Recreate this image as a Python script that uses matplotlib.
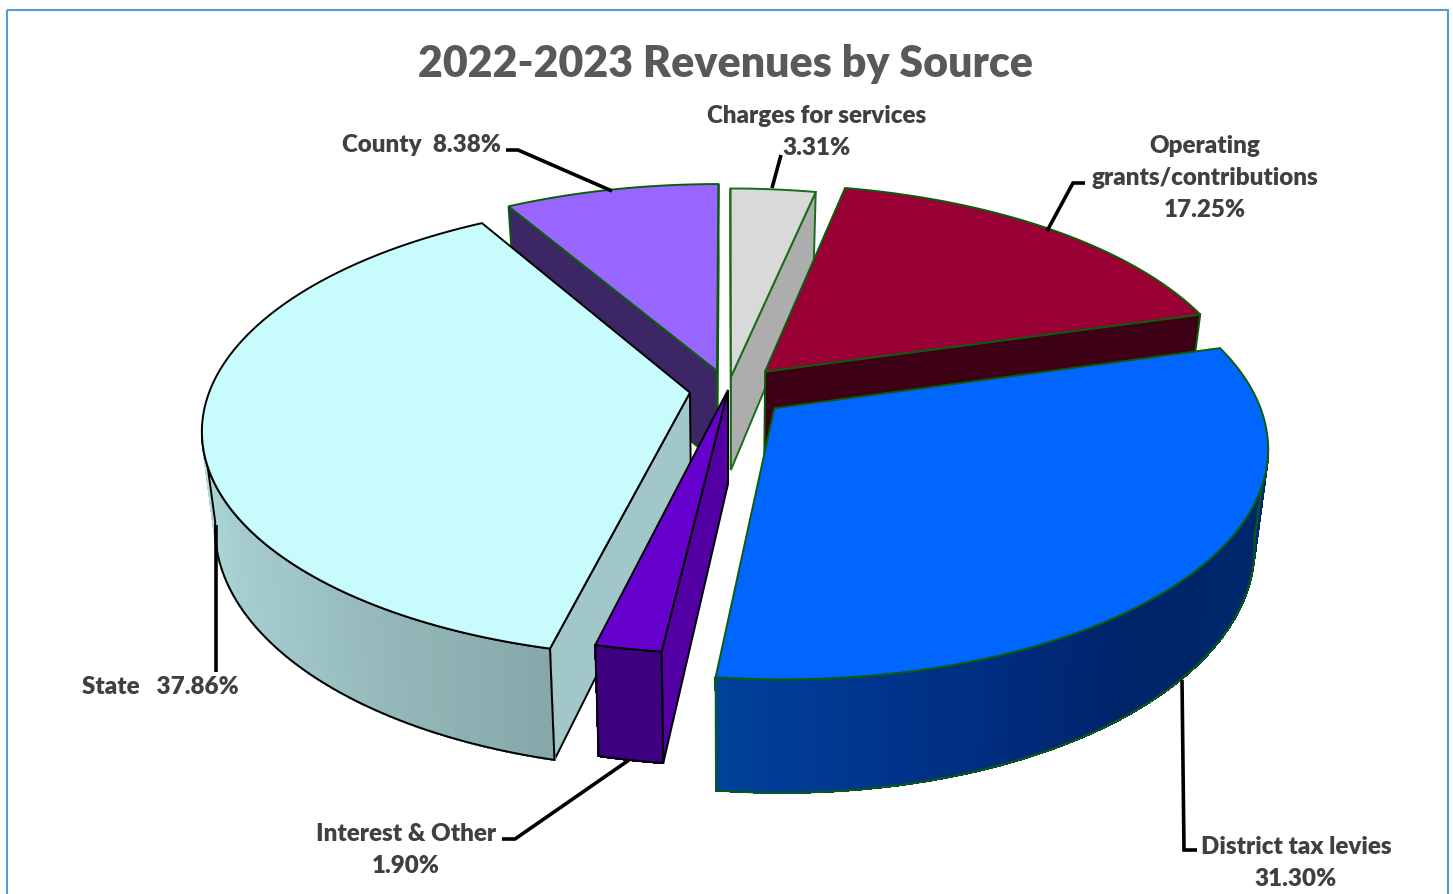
import numpy as np
import matplotlib
matplotlib.use('Agg')
import matplotlib.pyplot as plt
from matplotlib.patches import Polygon, Rectangle

# shares clockwise from 12 o'clock
names = ['Charges for services', 'Operating\ngrants/contributions', 'District tax levies',
         'Interest & Other', 'State', 'County']
shares = [3.31, 17.25, 31.30, 1.90, 37.86, 8.38]
explode = [0.06, 0.115, 0.125, 0.0, 0.08, 0.09]
top_colors = ['#D9D9D9', '#990033', '#0066FF', '#6600CC', '#C8FCFC', '#9966FF']
wall_colors = ['#ADADAD', '#3D0014', '#00205C', '#5200A3', '#A2C7C8', '#3C2666']
edge_colors = ['#1B6B1B', '#0B5D0B', '#0B5D0B', 'black', 'black', '#0B5D0B']
side_stops = [['#ADADAD'], ['#3D0014'], ['#002A70', '#00266B', '#00246A', '#003086', '#00419B'],
              ['#3E007F'], ['#86A8AA', '#A0C6C6', '#AFDADA'], ['#3C2666']]
draw_order = [5, 0, 1, 4, 2, 3]

# projection of the pie plane to pixels
CX, CY = 728, 390
SX, SY, PERSP = 480, 222, 0.158
DEPTH, SHRINK = 94, 0.975


def project(x, y):
    w = 1 + PERSP * y
    return CX + SX * x / w, CY - SY * y / w, w


def lower(px, py, w):
    return CX + (px - CX) * SHRINK, py + DEPTH / w


def mix(stops, t):
    rgb = np.array([matplotlib.colors.to_rgb(c) for c in stops])
    if len(rgb) == 1:
        return rgb[0]
    pos = t * (len(rgb) - 1)
    i = min(int(pos), len(rgb) - 2)
    return rgb[i] + (rgb[i + 1] - rgb[i]) * (pos - i)


def draw_slice(ax, start, end, mid_off, top, wall, edge, stops):
    ang = np.radians(np.linspace(start, end, 121))
    m = np.radians((start + end) / 2)
    ox, oy = mid_off * np.sin(m), mid_off * np.cos(m)
    rx, ry, rw = project(ox + np.sin(ang), oy + np.cos(ang))
    ax_, ay_, aw = project(ox, oy)
    bx, by = lower(rx, ry, rw)
    abx, aby = lower(ax_, ay_, aw)
    mid = len(ang) // 2

    # cut faces, only the ones turned to the viewer
    for k in (0, -1):
        ex, ey = rx[k] - ax_, ry[k] - ay_
        ix, iy = rx[mid] - ax_, ry[mid] - ay_
        if ex * DEPTH * np.sign(ex * iy - ey * ix) < 0:
            ax.add_patch(Polygon([(ax_, ay_), (rx[k], ry[k]), (bx[k], by[k]), (abx, aby)],
                                 fc=wall, ec=edge, lw=1.4, joinstyle='miter'))

    # outer curved face, built from thin strips for the gradient
    vis = np.where(np.cos(ang) < -0.14)[0]
    if len(vis) > 1:
        for i in vis[:-1]:
            c = mix(stops, (i - vis[0]) / max(len(vis) - 2, 1))
            ax.add_patch(Polygon([(rx[i], ry[i]), (rx[i + 1], ry[i + 1]),
                                  (bx[i + 1], by[i + 1]), (bx[i], by[i])],
                                 fc=c, ec=c, lw=1.0, antialiased=False))
        outline = list(zip(rx[vis], ry[vis])) + list(zip(bx[vis], by[vis]))[::-1]
        ax.add_patch(Polygon(outline, fill=False, ec=edge, lw=1.4, joinstyle='miter'))

    ax.add_patch(Polygon([(ax_, ay_)] + list(zip(rx, ry)), fc=top, ec=edge, lw=1.4,
                         joinstyle='miter'))


fig = plt.figure(figsize=(14.53, 8.94), dpi=100)
ax = fig.add_axes([0, 0, 1, 1])
ax.set_xlim(0, 1453)
ax.set_ylim(894, 0)
ax.axis('off')

ax.add_patch(Rectangle((7, 10), 1441, 900, fill=False, ec='#5B9BD5', lw=1.5))

bounds = np.concatenate([[0], np.cumsum(shares)]) / sum(shares) * 360
for i in draw_order:
    draw_slice(ax, bounds[i], bounds[i + 1], explode[i], top_colors[i], wall_colors[i],
               edge_colors[i], side_stops[i])

# leader lines
leaders = [[(781, 155), (772, 188)],
           [(1085, 183), (1073, 183), (1047, 231)],
           [(1197, 850), (1184, 850), (1182, 680)],
           [(502, 839), (515, 839), (629, 760)],
           [(216, 525), (216, 672)],
           [(506, 150), (518, 150), (612, 191)]]
for pts in leaders:
    xs, ys = zip(*pts)
    ax.plot(xs, ys, color='black', lw=2.6, solid_joinstyle='miter', solid_capstyle='butt')

FONT = 'Lato'
ax.text(726, 64, '2022-2023 Revenues by Source', ha='center', va='center', family=FONT,
        weight='heavy', fontsize=30.9, color='#595959')


def label(x, y, lines, ha='center'):
    for n, line in enumerate(lines):
        ax.text(x, y + n * 32, line, ha=ha, va='center', family=FONT, weight='heavy',
                fontsize=17.4, color='#404040')


pct = [f'{v:.2f}%' for v in shares]
label(817, 116, [names[0], pct[0]])
label(1205, 146, names[1].split('\n') + [pct[1]])
label(1296, 847, [names[2], pct[2]])
label(406, 834, [names[3], pct[3]])
label(160, 687, [f'{names[4]}   {pct[4]}'])
label(422, 145, [f'{names[5]}  {pct[5]}'])

fig.savefig('out.png', dpi=100)
